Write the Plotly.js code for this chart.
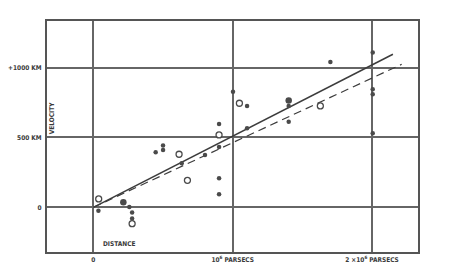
<!DOCTYPE html>
<html><head><meta charset="utf-8">
<script src="https://cdn.plot.ly/plotly-3.0.1.min.js"></script>
<style>html,body{margin:0;padding:0;background:#fff;}#c{width:452px;height:271px;}</style>
</head><body><div id="c"></div>
<script>
// Distance in units of 10^6 parsecs, velocity in km/s
const filledDist = [0.036, 0.258, 0.278, 0.278, 0.447, 0.50, 0.50, 0.634, 0.801, 0.902, 0.902, 0.902, 0.902, 1.002, 1.103, 1.103, 1.402, 1.402, 1.701, 2.005, 2.005, 2.005, 2.005];
const filledVel  = [-24, 2, -38, -81, 394, 442, 411, 315, 375, 597, 432, 208, 93, 828, 726, 566, 726, 613, 1041, 1108, 845, 809, 530];
const bigDist = [0.215, 1.402];
const bigVel  = [36, 764];
const openDist = [0.038, 0.278, 0.615, 0.675, 0.902, 1.048, 1.629];
const openVel  = [60, -117, 380, 193, 518, 745, 726];
const solidDist = [0, 2.15];
const solidVel  = [0, 1096];
const dashDist = [0, 2.213];
const dashVel  = [0, 1024];
const xTickVals = [0, 1, 2];
const xTickText = ['0', '10<sup>6</sup> PARSECS', '2 ×10<sup>6</sup> PARSECS'];
const yTickVals = [0, 500, 1000];
const yTickText = ['0', '500 KM', '+1000 KM'];

const ink = '#3c3c3c';
const data = [
  {x: solidDist, y: solidVel, mode: 'lines', line: {color: ink, width: 1.5}, hoverinfo: 'skip'},
  {x: dashDist, y: dashVel, mode: 'lines', line: {color: ink, width: 1.2, dash: '8px,5px'}, hoverinfo: 'skip'},
  {x: filledDist, y: filledVel, mode: 'markers', marker: {color: '#4a4a4a', size: 4.5, line: {width: 0}}},
  {x: bigDist, y: bigVel, mode: 'markers', marker: {color: '#4a4a4a', size: 6.5, line: {width: 0}}},
  {x: openDist, y: openVel, mode: 'markers', marker: {color: '#fff', size: 6, line: {color: '#4a4a4a', width: 1.3}}}
];
const fnt = {family: 'DejaVu Sans Condensed, DejaVu Sans, sans-serif', size: 6.5, color: '#3a3a3a', weight: 'bold'};
const layout = {
  width: 452, height: 271,
  margin: {l: 47, r: 34, t: 21, b: 19},
  paper_bgcolor: '#fff', plot_bgcolor: '#fff',
  showlegend: false,
  font: fnt,
  xaxis: {range: [-0.333, 2.33], tickvals: xTickVals, ticktext: xTickText, showgrid: true, gridcolor: '#666', gridwidth: 2,
          zeroline: false, showline: true, mirror: true, linecolor: '#555', linewidth: 2, ticks: '', ticklen: 0, tickfont: fnt, fixedrange: true},
  yaxis: {range: [-320, 1334], tickvals: yTickVals, ticktext: yTickText, showgrid: true, gridcolor: '#666', gridwidth: 2,
          zeroline: false, showline: true, mirror: true, linecolor: '#555', linewidth: 2, ticks: '', ticklen: 0, ticklabelstandoff: 2, tickfont: fnt, fixedrange: true},
  annotations: [
    {text: 'VELOCITY', xref: 'paper', yref: 'paper', x: 0.014, y: 0.58, textangle: -90, showarrow: false, font: fnt, xanchor: 'center', yanchor: 'middle'},
    {text: 'DISTANCE', xref: 'paper', yref: 'paper', x: 0.195, y: 0.01, showarrow: false, font: fnt, xanchor: 'center', yanchor: 'bottom'}
  ]
};
Plotly.newPlot('c', data, layout, {displayModeBar: false, staticPlot: true});
</script></body></html>
